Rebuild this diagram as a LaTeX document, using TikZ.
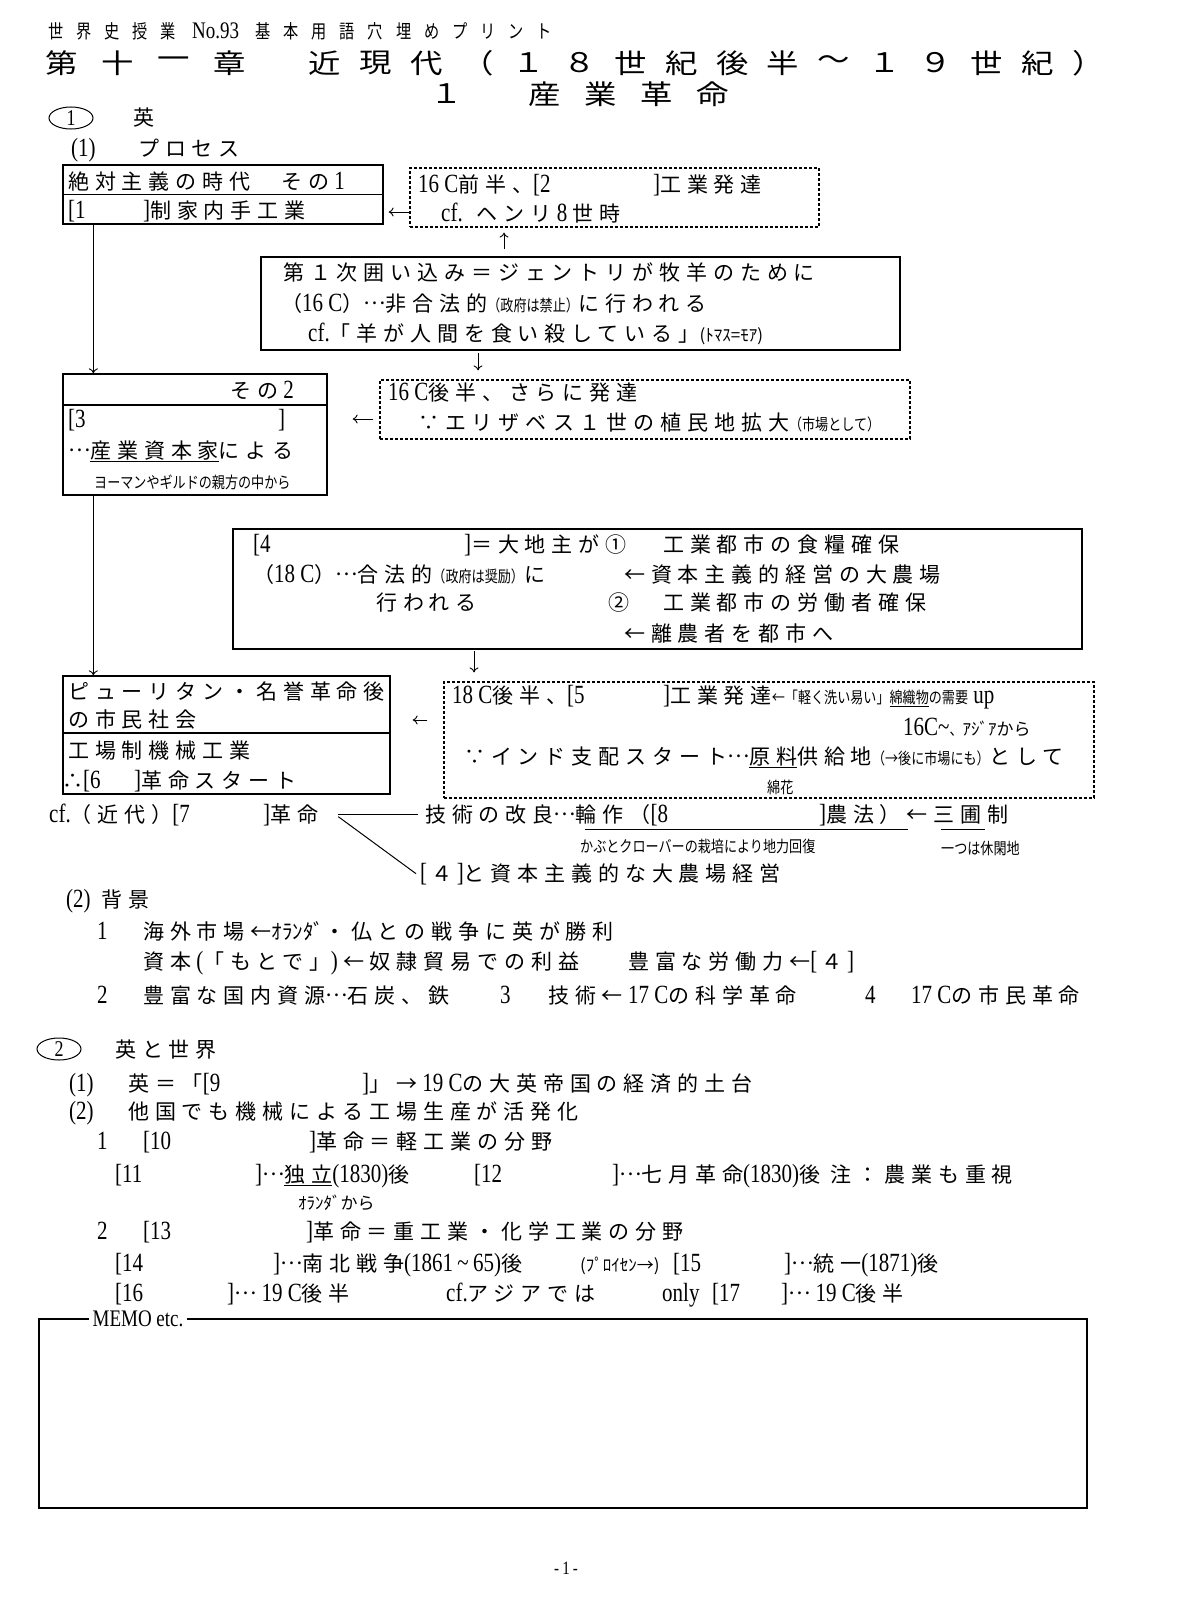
\documentclass[tikz,border=0pt]{standalone}
\usepackage{fontspec}
\usetikzlibrary{arrows.meta,shapes.geometric}
\newfontfamily\jw{Noto Sans CJK JP}[LetterSpace=28]
\newfontfamily\jn{Noto Sans CJK JP}
\newfontfamily\js{Noto Sans CJK JP}[Scale=0.76,FakeStretch=0.82]
\newfontfamily\jh{Noto Sans CJK JP}[FakeStretch=1.2]
\newfontfamily\jt{Noto Sans CJK JP}[FakeStretch=0.8,LetterSpace=68]
\newfontfamily\latf{Liberation Serif}[Scale=1.25,FakeStretch=0.8]
\newcommand\ltn[1]{{\latf #1}}
\newcommand\sm[1]{{\js #1}}
\newcommand\hk[1]{{\jn\fontsize{17}{20}\selectfont #1}}
\newcommand\md{\raisebox{0.33em}{…}}
\begin{document}
\begin{tikzpicture}[x=1pt,y=-1pt,
 tx/.style={anchor=base west,yshift=-8pt,inner sep=0pt,font=\jw\fontsize{21}{25}\selectfont},
 box/.style={draw,line width=1.3pt,inner sep=0pt},
 tbox/.style={draw,line width=2.4pt,inner sep=0pt},
 dbox/.style={draw,line width=1.2pt,dash pattern=on 3pt off 2pt,inner sep=0pt},
 arr/.style={-{To[length=5pt,width=9pt]},line width=0.9pt},
 circ/.style={draw,ellipse,line width=1pt,minimum width=44pt,minimum height=22pt,inner sep=0pt,font=\latf\fontsize{18}{20}\selectfont},
 hbig/.style={inner sep=0pt,font=\jh\fontsize{27}{30}\selectfont},
 uline/.style={line width=1pt}
]
\useasboundingbox (0,0) rectangle (1200,1600);

% ---------- header ----------
\node[tx,font=\jt\fontsize{19}{22}\selectfont] (h1) at (48,31) {世界史授業 \ltn{No.93} 基本用語穴埋めプリント};
\foreach \c [count=\i from 0] in {第,十,一,章}
  \node[hbig] (ha\i) at (62+56*\i,63) {\c};
\foreach \c [count=\i from 0] in {近,現,代,（,１,８,世,紀,後,半,～,１,９,世,紀,）}
  \node[hbig] (hb\i) at (325+50.9*\i,63) {\c};
\node[hbig] (hc) at (447,94) {１};
\foreach \c [count=\i from 0] in {産,業,革,命}
  \node[hbig] (hd\i) at (545+56*\i,94) {\c};

% ---------- section 1 ----------
\node[circ] (c1) at (71,118) {1};
\node[tx] (s1) at (133,118) {英};
\node[tx] (p1n) at (71,149) {\ltn{(1)}};
\node[tx] (p1) at (138,149) {プロセス};

% boxes
\node[box,minimum width=320pt,minimum height=59pt] (b1) at (223,194.5) {};
\draw[line width=1.3pt] (b1.west) -- (b1.east);
\node[dbox,minimum width=409pt,minimum height=59pt] (d2) at (614.5,197.5) {};
\node[tbox,minimum width=639pt,minimum height=93pt] (b3) at (580.5,303.5) {};
\node[box,minimum width=264pt,minimum height=121pt] (b2) at (195,434.5) {};
\draw[line width=1.3pt] ([yshift=29.5pt]b2.west) -- ([yshift=29.5pt]b2.east);
\node[dbox,minimum width=530pt,minimum height=59pt] (d4) at (645,409.5) {};
\node[tbox,minimum width=849pt,minimum height=120pt] (b4) at (657.5,589) {};
\node[box,minimum width=327pt,minimum height=118pt] (b5) at (226.5,735) {};
\draw[line width=1.3pt] ([yshift=2pt]b5.west) -- ([yshift=2pt]b5.east);
\node[dbox,minimum width=650pt,minimum height=116pt] (d6) at (769,740) {};

% arrows
\draw[arr] ([xshift=31pt]b1.south west) -- ([xshift=31pt]b2.north west);
\draw[arr] ([xshift=31pt]b2.south west) -- ([xshift=31pt]b5.north west);
\draw[arr,shorten >=5pt] ([yshift=-14.5pt]d2.west) -- ([yshift=-17.5pt]b1.east);
\draw[arr,shorten <=7pt,shorten >=5pt] ([xshift=-76.5pt]b3.north) -- ([xshift=-110.5pt]d2.south);
\draw[arr,shorten <=2pt,shorten >=9pt] ([xshift=-102.5pt]b3.south) -- ([xshift=-167pt]d4.north);
\draw[arr,shorten <=6pt,shorten >=25pt] ([yshift=-9.5pt]d4.west) -- ([yshift=15.5pt]b2.east);
\draw[arr,shorten <=1pt,shorten >=9pt] ([xshift=-183.5pt]b4.south) -- ([xshift=-295pt]d6.north);
\draw[arr,shorten <=16pt,shorten >=22pt] ([yshift=20pt]d6.west) -- ([yshift=15pt]b5.east);

% box 1 text
\node[tx] (b1a) at (68,181) {絶対主義の時代};
\node[tx] (b1b) at (281,181) {その\ltn{ 1}};
\node[tx] (b1c) at (68,210) {\ltn{[1}};
\node[tx] (b1d) at (143,210) {\ltn{]}制家内手工業};
% dashed box 2
\node[tx] (d2a) at (418,184) {\ltn{16 C}前半、\ltn{[2}};
\node[tx] (d2b) at (653,184) {\ltn{]}工業発達};
\node[tx] (d2c) at (441,213) {\ltn{cf.} ヘンリ\ltn{ 8 }世時};
% box 3
\node[tx] (b3a) at (283,272) {第１次囲い込み＝ジェントリが牧羊のために};
\node[tx] (b3b) at (281,303) {（\ltn{16 C}）\md 非合法的\sm{（政府は禁止）}に行われる};
\node[tx] (b3c) at (308,333) {\ltn{cf.}「羊が人間を食い殺している」\hk{(ﾄﾏｽ=ﾓｱ)}};
% box 2
\node[tx] (b2a) at (230,390) {その\ltn{ 2}};
\node[tx] (b2b) at (68,419) {\ltn{[3}};
\node[tx] (b2c) at (278,419) {\ltn{]}};
\node[tx] (b2d) at (68,450) {\md\underline{産業資本家}による};
\node[tx] (b2e) at (94,480) {\sm{ヨーマンやギルドの親方の中から}};
% dashed box 4
\node[tx] (d4a) at (388,392) {\ltn{16 C}後半、さらに発達};
\node[tx] (d4b) at (418,422) {∵エリザベス１世の植民地拡大\sm{（市場として）}};
% box 4
\node[tx] (b4a) at (253,544) {\ltn{[4}};
\node[tx] (b4b) at (464,544) {\ltn{]}＝大地主が①};
\node[tx] (b4c) at (663,544) {工業都市の食糧確保};
\node[tx] (b4d) at (253,574) {（\ltn{18 C}）\md 合法的\sm{（政府は奨励）}に};
\node[tx] (b4e) at (624,574) {←資本主義的経営の大農場};
\node[tx] (b4f) at (376,602) {行われる};
\node[tx] (b4g) at (608,602) {②};
\node[tx] (b4h) at (663,602) {工業都市の労働者確保};
\node[tx] (b4i) at (624,633) {←離農者を都市へ};
% box 5
\node[tx] (b5a) at (68,691) {ピューリタン・名誉革命後};
\node[tx] (b5b) at (68,719) {の市民社会};
\node[tx] (b5c) at (68,750) {工場制機械工業};
\node[tx] (b5d) at (62,780) {∴\ltn{[6}};
\node[tx] (b5e) at (134,780) {\ltn{]}革命スタート};
% dashed box 6
\node[tx] (d6a) at (452,695) {\ltn{18 C}後半、\ltn{[5}};
\node[tx] (d6b) at (663,695) {\ltn{]}工業発達\sm{←「軽く洗い易い」\underline{綿織物}の需要}\ltn{ up}};
\node[tx] (d6c) at (903,727) {\ltn{16C\textasciitilde}\sm{、}\hk{ｱｼﾞｱから}};
\node[tx] (d6d) at (464,756) {∵インド支配スタート\md\underline{原料}供給地\sm{（→後に市場にも）}として};
\node[tx] (d6e) at (767,785) {\sm{綿花}};

% cf line
\node[tx] (c7a) at (49,814) {\ltn{cf.}（近代）\ltn{[7}};
\node[tx] (c7b) at (263,814) {\ltn{]}革命};
\node[tx] (c8a) at (425,814) {技術の改良\md 輪作（\ltn{[8}};
\node[tx] (c8b) at (819,814) {\ltn{]}農法）←三圃制};
\draw[uline] ([xshift=160pt,yshift=-15pt]c8a.west) -- ([xshift=89pt,yshift=-15pt]c8b.west);
\draw[uline] ([xshift=122pt,yshift=-15pt]c8b.west) -- ([xshift=166pt,yshift=-15pt]c8b.west);
\node[tx] (c8c) at (580,844) {\sm{かぶとクローバーの栽培により地力回復}};
\node[tx] (c8d) at (941,846) {\sm{一つは休閑地}};
\node[tx] (c4) at (420,873) {\ltn{[\,}４\ltn{\,]}と資本主義的な大農場経営};
\draw[line width=1pt] ([xshift=20pt]c7b.east) -- ([xshift=-7pt]c8a.west);
\draw[line width=1pt] ([xshift=20pt,yshift=-2pt]c7b.east) -- ([xshift=-4pt]c4.west);

% background
\node[tx] (bg) at (66,899) {\ltn{(2)} 背景};
\node[tx] (bg1n) at (97,931) {\ltn{1}};
\node[tx] (bg1) at (143,931) {海外市場←{\jn ｵﾗﾝﾀﾞ}・仏との戦争に英が勝利};
\node[tx] (bg2) at (143,961) {資本\ltn{ (}「もとで」\ltn{) }←奴隷貿易での利益};
\node[tx] (bg3) at (628,961) {豊富な労働力←\ltn{[\,}４\ltn{\,]}};
\node[tx] (bg4n) at (97,995) {\ltn{2}};
\node[tx] (bg4) at (143,995) {豊富な国内資源\md 石炭、鉄};
\node[tx] (bg5n) at (500,995) {\ltn{3}};
\node[tx] (bg5) at (548,995) {技術←\ltn{ 17 C}の科学革命};
\node[tx] (bg6n) at (865,995) {\ltn{4}};
\node[tx] (bg6) at (911,995) {\ltn{17 C}の市民革命};

% section 2
\node[circ] (c2) at (59,1049) {2};
\node[tx] (s2) at (115,1049) {英と世界};
\node[tx] (s21n) at (69,1083) {\ltn{(1)}};
\node[tx] (s21a) at (128,1083) {英＝「\ltn{[9}};
\node[tx] (s21b) at (362,1083) {\ltn{]}」→\ltn{ 19 C}の大英帝国の経済的土台};
\node[tx] (s22n) at (69,1111) {\ltn{(2)}};
\node[tx] (s22a) at (128,1111) {他国でも機械による工場生産が活発化};
\node[tx] (l1n) at (97,1141) {\ltn{1}};
\node[tx] (l1a) at (143,1141) {\ltn{[10}};
\node[tx] (l1b) at (309,1141) {\ltn{]}革命＝軽工業の分野};
\node[tx] (l11a) at (115,1174) {\ltn{[11}};
\node[tx] (l11b) at (255,1174) {\ltn{]}\md\underline{独立}\ltn{(1830)}後};
\node[tx] (l12a) at (474,1174) {\ltn{[12}};
\node[tx] (l12b) at (612,1174) {\ltn{]}\md 七月革命\ltn{(1830)}後 注：農業も重視};
\node[tx] (l11c) at (298,1201) {\hk{ｵﾗﾝﾀﾞから}};
\node[tx] (l2n) at (97,1231) {\ltn{2}};
\node[tx] (l2a) at (143,1231) {\ltn{[13}};
\node[tx] (l2b) at (306,1231) {\ltn{]}革命＝重工業・化学工業の分野};
\node[tx] (l14a) at (115,1263) {\ltn{[14}};
\node[tx] (l14b) at (273,1263) {\ltn{]}\md 南北戦争\ltn{(1861\,\textasciitilde\,65)}後};
\node[tx] (l14c) at (580,1263) {\hk{(ﾌﾟﾛｲｾﾝ→)}};
\node[tx] (l15a) at (673,1263) {\ltn{[15}};
\node[tx] (l15b) at (784,1263) {\ltn{]}\md 統一\ltn{(1871)}後};
\node[tx] (l16a) at (115,1293) {\ltn{[16}};
\node[tx] (l16b) at (227,1293) {\ltn{]}\md\ltn{ 19 C}後半};
\node[tx] (l16c) at (446,1293) {\ltn{cf.}アジアでは};
\node[tx] (l16d) at (662,1293) {\ltn{only}};
\node[tx] (l17a) at (712,1293) {\ltn{[17}};
\node[tx] (l17b) at (781,1293) {\ltn{]}\md\ltn{ 19 C}後半};

% memo
\node[draw,line width=1.5pt,minimum width=1048pt,minimum height=189pt,inner sep=0pt] (memo) at (563,1413.5) {};
\node[fill=white,inner sep=4pt,font=\latf\fontsize{19}{22}\selectfont] (memol) at (138,1319) {MEMO etc.};

\node[font=\latf\fontsize{15}{20}\selectfont,inner sep=0pt] (pg) at (566,1568) {-\,1\,-};
\end{tikzpicture}
\end{document}
